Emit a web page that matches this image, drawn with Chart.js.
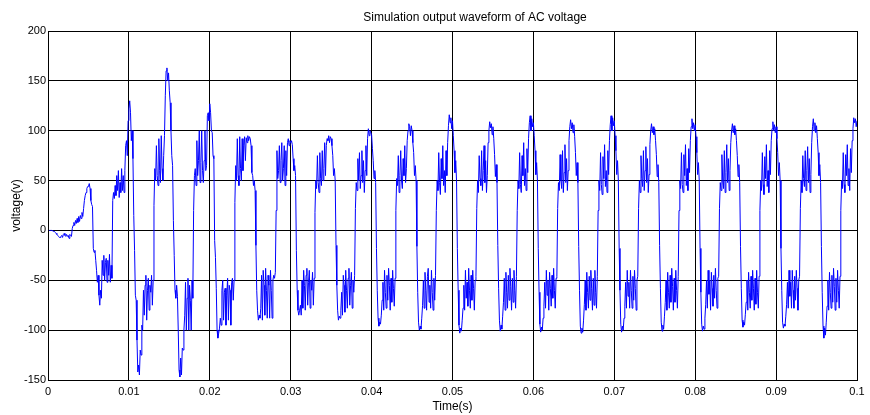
<!DOCTYPE html>
<html>
<head>
<meta charset="utf-8">
<script src="https://cdn.jsdelivr.net/npm/chart.js@4.4.1/dist/chart.umd.min.js"></script>
<style>
  html, body { margin: 0; padding: 0; background: #fff; }
  #wrap { width: 870px; height: 415px; }
</style>
</head>
<body>
<div id="wrap"><canvas id="chart" width="870" height="415"></canvas></div>
<script>
// voltage samples, one every 0.1 ms
const sampleStep = 0.0001;

const volts0to10ms = [
  0,0,0,0,0,0,0,-1,-1,-2, -3,-4,-5,-6,-7,-7,-6,-5,-7,-4, -3,-5,-6,-4,-6,-5,-8,-4,-5,-6, 2,5,8,5,10,7,12,8,14,9, 15,12,18,14,22,30,35,38,42,44,
  44,47,42,30,26,24,-18,-22,-20,-30, -40,-52,-45,-65,-75,-60,-68,-30,-45,-25, -50,-32,-28,-52,-30,-45,-24,-52,-35,-48, 30,38,32,45,35,55,40,60,33,48, 38,62,40,55,38,60,85,90,75,110
];
const volts10to20ms = [
  122,130,118,90,100,72,15,-20,-65,-70, -110,-142,-135,-145,-120,-125,-95,-100,-60,-85, -55,-45,-90,-60,-48,-80,-55,-62,-45,-75, -50,25,62,50,85,55,45,92,60,48, 95,62,50,75,95,135,160,163,150,158,
  140,128,100,75,65,10,-25,-60,-68,-55, -66,-100,-140,-147,-128,-145,-118,-120,-100,-85, -52,-100,-68,-48,-100,-55,-70,-100,-50,-68, 20,55,62,45,90,55,70,100,48,68, 100,60,48,70,100,60,65,115,118,110
];
const volts20to30ms = [
  127,118,100,98,75,72,-10,-27,-58,-100, -108,-103,-98,-88,-95,-60,-50,-90,-62,-58, -95,-65,-48,-90,-55,-60,-95,-52,-48,-70, -50,28,65,50,92,55,45,94,62,50, 92,60,85,94,70,93,88,95,90,94,
  92,85,58,55,45,50,40,-15,-60,-80, -90,-85,-88,-78,-45,-90,-40,-55,-85,-38, -60,-88,-45,-55,-88,-40,-60,-88,-50,-45, -48,-42,20,80,52,60,85,48,70,88, 50,62,85,45,80,55,88,92,85,90
];
const volts30to40ms = [
  88,90,86,72,60,65,55,-20,-60,-80, -85,-80,-75,-85,-50,-78,-40,-55,-80,-45, -38,-75,-52,-40,-78,-50,-60,-42,-75,-48, 18,50,42,75,48,38,78,52,45,80, 50,62,88,55,85,92,90,95,88,94,
  92,85,75,55,62,50,-15,-55,-80,-90, -86,-88,-80,-62,-85,-45,-55,-82,-40,-60, -78,-48,-38,-75,-55,-42,-78,-50,-62,-45, 22,48,40,72,50,78,42,55,80,48, 70,38,60,85,55,92,102,95,100,98
];
const volts40to50ms = [
  96,82,70,52,60,48,-18,-60,-88,-96, -92,-94,-85,-70,-52,-80,-40,-62,-78,-45, -70,-38,-55,-80,-48,-72,-40,-58,-76,-48, 20,52,45,75,38,55,80,50,42,72, 55,85,48,62,90,100,107,104,95,105,
  100,88,78,55,65,50,-16,-62,-92,-100, -96,-99,-88,-75,-50,-78,-42,-60,-80,-46, -38,-72,-55,-78,-40,-62,-80,-48,-70,-45, 20,50,40,78,48,36,72,52,85,45, 60,38,80,55,88,105,116,108,113,102
];
const volts50to60ms = [
  110,95,80,58,70,50,-18,-60,-95,-103, -98,-101,-90,-78,-55,-80,-40,-68,-52,-76, -38,-60,-78,-45,-70,-40,-58,-80,-50,-46, 22,50,38,75,52,45,80,40,60,85, 48,70,38,55,88,100,109,103,107,96,
  104,92,76,54,66,48,-15,-58,-90,-101, -95,-99,-86,-72,-48,-80,-42,-62,-78,-45, -70,-38,-56,-80,-48,-72,-40,-60,-78,-46, 20,50,42,78,46,38,75,55,88,45, 62,40,82,58,92,108,115,100,112,104
];
const volts60to70ms = [
  108,95,80,56,68,50,-18,-62,-94,-102, -97,-100,-88,-76,-52,-78,-40,-65,-50,-80, -42,-58,-76,-45,-68,-38,-60,-78,-48,-46, 22,48,40,76,50,42,80,38,58,86, 48,72,40,60,90,104,111,102,108,98,
  106,94,78,55,68,48,-16,-60,-96,-103, -98,-102,-90,-74,-50,-80,-42,-62,-78,-46, -70,-40,-58,-80,-48,-75,-40,-62,-78,-46, 20,50,40,78,46,36,74,52,86,44, 60,38,80,56,90,106,115,100,113,105
];
const volts70to80ms = [
  110,95,80,56,70,50,-18,-60,-94,-102, -96,-100,-88,-76,-52,-78,-40,-66,-52,-78, -40,-60,-78,-46,-70,-40,-58,-80,-50,-46, 22,50,38,75,52,44,80,40,60,84, 48,72,38,56,86,100,107,98,104,96,
  102,90,76,54,66,48,-15,-58,-92,-101, -95,-99,-86,-72,-50,-80,-42,-62,-78,-45, -72,-38,-56,-80,-48,-72,-40,-60,-78,-46, 20,50,42,78,46,38,76,55,86,45, 62,40,82,58,90,104,112,102,108,100
];
const volts80to90ms = [
  106,94,78,56,68,50,-18,-62,-94,-101, -96,-99,-88,-74,-50,-78,-40,-64,-50,-80, -42,-58,-76,-45,-68,-38,-60,-78,-48,-46, 22,48,40,76,50,42,80,38,58,86, 48,72,40,60,88,100,107,98,105,96,
  102,90,75,54,66,48,-16,-58,-90,-97, -92,-95,-84,-72,-50,-80,-42,-62,-78,-46, -70,-40,-58,-80,-48,-74,-40,-62,-78,-46, 20,50,40,78,46,36,74,52,86,44, 60,38,80,56,90,102,109,100,106,98
];
const volts90to100ms = [
  104,92,78,55,68,50,-18,-60,-92,-98, -94,-96,-86,-74,-52,-78,-40,-66,-52,-78, -40,-60,-78,-46,-70,-40,-58,-80,-50,-46, 22,50,38,75,52,44,80,40,60,84, 48,72,38,56,88,104,112,100,108,98,
  105,92,78,55,66,48,-16,-62,-96,-108, -98,-105,-92,-76,-50,-80,-42,-62,-78,-45, -72,-38,-56,-80,-48,-72,-40,-60,-78,-46, 20,50,42,78,46,38,76,55,86,45, 62,40,82,58,90,102,113,108,112,104,
  110
];

const xTickValues = [0, 0.01, 0.02, 0.03, 0.04, 0.05, 0.06, 0.07, 0.08, 0.09, 0.1];
const xTickLabels = ['0', '0.01', '0.02', '0.03', '0.04', '0.05', '0.06', '0.07', '0.08', '0.09', '0.1'];
const yTickValues = [-150, -100, -50, 0, 50, 100, 150, 200];

const chartTitle = 'Simulation output waveform of AC voltage';
const FONT = '"Liberation Sans", Arial, sans-serif';

const voltage = [].concat(volts0to10ms, volts10to20ms, volts20to30ms, volts30to40ms, volts40to50ms,
  volts50to60ms, volts60to70ms, volts70to80ms, volts80to90ms, volts90to100ms);
const points = voltage.map((v, i) => ({ x: i * sampleStep, y: v }));

// matlab style closed box around the axes
const framePlugin = {
  id: 'frame',
  afterDraw(chart) {
    const { ctx, chartArea: a } = chart;
    ctx.save();
    ctx.strokeStyle = '#000';
    ctx.lineWidth = 1;
    ctx.strokeRect(Math.round(a.left) + 0.5, Math.round(a.top) + 0.5, Math.round(a.right - a.left), Math.round(a.bottom - a.top));
    ctx.restore();
  }
};

const titlePlugin = {
  id: 'plotTitle',
  afterDraw(chart) {
    const ctx = chart.ctx;
    ctx.save();
    ctx.font = '12px ' + FONT;
    ctx.fillStyle = '#000';
    ctx.textAlign = 'center';
    ctx.textBaseline = 'alphabetic';
    ctx.fillText(chartTitle, 475, 21);
    ctx.restore();
  }
};

new Chart(document.getElementById('chart'), {
  type: 'line',
  data: {
    datasets: [{
      data: points,
      borderColor: '#0000ff',
      borderWidth: 1,
      pointRadius: 0,
      tension: 0,
      fill: false
    }]
  },
  options: {
    responsive: false,
    animation: false,
    devicePixelRatio: 1,
    parsing: false,
    layout: { padding: { top: 31, right: 13, left: 0, bottom: 0 } },
    plugins: { legend: { display: false }, tooltip: { enabled: false } },
    scales: {
      x: {
        type: 'linear',
        min: 0,
        max: 0.1,
        afterBuildTicks: (s) => { s.ticks = xTickValues.map(v => ({ value: v })); },
        afterFit: (s) => { s.height = 35; },
        ticks: {
          autoSkip: false,
          maxRotation: 0,
          padding: 5,
          color: '#000',
          font: { family: FONT, size: 11 },
          callback: (v, i) => xTickLabels[i]
        },
        grid: { color: '#000', lineWidth: 1, drawTicks: false },
        border: { color: '#000', width: 1 },
        title: {
          display: true,
          text: 'Time(s)',
          color: '#000',
          font: { family: FONT, size: 12 },
          padding: { top: 0, bottom: 1 }
        }
      },
      y: {
        min: -150,
        max: 200,
        afterBuildTicks: (s) => { s.ticks = yTickValues.map(v => ({ value: v })); },
        afterFit: (s) => { s.width = 48; },
        ticks: {
          padding: 2,
          color: '#000',
          font: { family: FONT, size: 11 },
          callback: (v) => String(v)
        },
        grid: { color: '#000', lineWidth: 1, drawTicks: false },
        border: { color: '#000', width: 1 },
        title: {
          display: true,
          text: 'voltage(v)',
          color: '#000',
          font: { family: FONT, size: 12 },
          padding: { top: 9, bottom: 0 }
        }
      }
    }
  },
  plugins: [framePlugin, titlePlugin]
});
</script>
</body>
</html>
